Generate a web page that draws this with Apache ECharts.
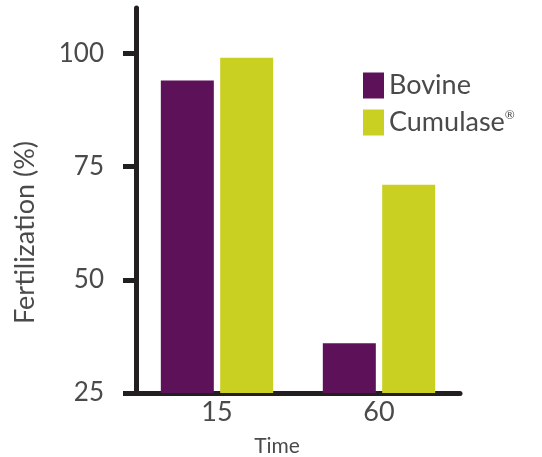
<!DOCTYPE html>
<html>
<head>
<meta charset="utf-8">
<script src="https://cdn.jsdelivr.net/npm/echarts@6/dist/echarts.min.js"></script>
<style>html,body{margin:0;padding:0;background:#fff}#c{width:542px;height:457px}</style>
</head>
<body>
<div id="c"></div>
<script>
const categories = ['15', '60'];
const bovine = [94, 36];
const cumulase = [99, 71];
const yTicks = [25, 50, 75, 100];
const seriesNames = ['Bovine', 'Cumulase®'];

const FONT = 'Lato, "Open Sans", "DejaVu Sans", sans-serif';
const TXT = '#4a4a4a';
const AX = '#231f20';

const chart = echarts.init(document.getElementById('c'));
chart.setOption({
  animation: false,
  grid: { left: 136, right: 82, top: 8, bottom: 64, containLabel: false, outerBoundsMode: 'none' },
  legend: {
    orient: 'vertical',
    left: 363,
    top: 72,
    padding: 0,
    itemWidth: 21,
    itemHeight: 26,
    itemGap: 10,
    icon: 'rect',
    formatter: n => n.replace('®', '{s|®}'),
    textStyle: {
      fontFamily: FONT, fontSize: 27, color: TXT, fontWeight: 400,
      rich: { s: { fontFamily: FONT, fontSize: 12, color: TXT, verticalAlign: 'top', padding: [0, 0, 14, 0] } }
    },
    data: seriesNames
  },
  xAxis: {
    type: 'category',
    data: categories,
    name: 'Time',
    nameLocation: 'middle',
    nameGap: 43,
    nameTextStyle: { fontFamily: FONT, fontSize: 21, color: TXT, padding: [0, 42, 0, 0] },
    axisLine: { lineStyle: { color: AX, width: 5 } },
    axisTick: { show: false },
    axisLabel: { fontFamily: FONT, fontSize: 27, color: TXT, margin: 6, fontWeight: 400 }
  },
  yAxis: {
    type: 'value',
    min: 25,
    max: 110,
    interval: 25,
    name: 'Fertilization (%)',
    nameLocation: 'middle',
    nameRotate: 90,
    nameGap: 97,
    nameTextStyle: { fontFamily: FONT, fontSize: 27, color: TXT, fontWeight: 400, padding: [0, 64, 0, 0] },
    axisLine: { show: true, lineStyle: { color: AX, width: 5 } },
    axisTick: { show: true, length: 13, inside: false, lineStyle: { color: AX, width: 5 }, customValues: yTicks },
    axisLabel: { fontFamily: FONT, fontSize: 26, color: TXT, margin: 32, fontWeight: 400, customValues: yTicks },
    splitLine: { show: false }
  },
  series: [
    { name: seriesNames[0], type: 'bar', data: bovine, barWidth: 53, barGap: '12%', itemStyle: { color: '#5d1158' } },
    { name: seriesNames[1], type: 'bar', data: cumulase, barWidth: 53, barGap: '12%', itemStyle: { color: '#c9d022' } }
  ]
});
</script>
</body>
</html>
